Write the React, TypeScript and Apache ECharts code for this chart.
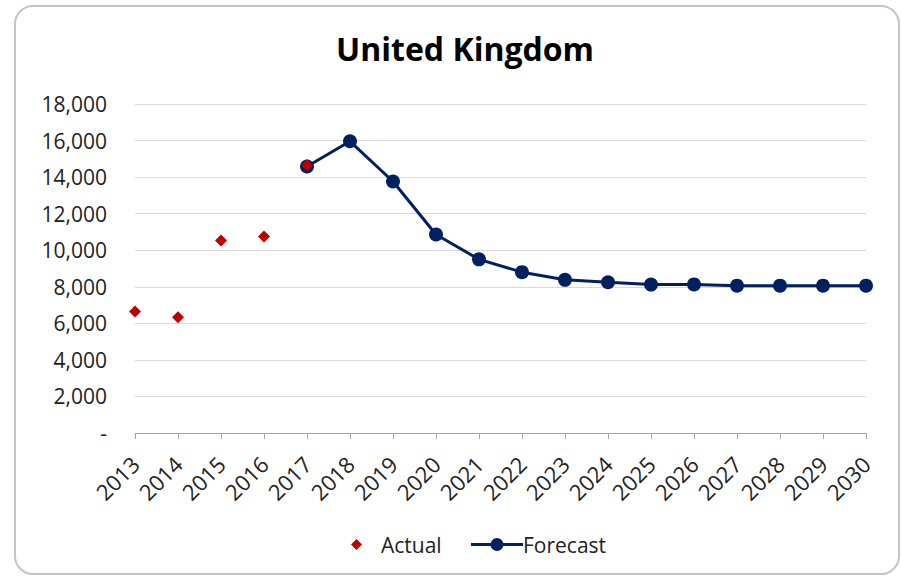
import React, { useEffect, useRef } from "react";
import * as echarts from "echarts";

const years = [
  "2013", "2014", "2015", "2016", "2017", "2018", "2019", "2020", "2021",
  "2022", "2023", "2024", "2025", "2026", "2027", "2028", "2029", "2030",
];

// Recorded values (2013–2017)
const actual: (number | null)[] = [
  6650, 6330, 10530, 10750, 14650, null, null, null, null,
  null, null, null, null, null, null, null, null, null,
];

// Projected values (2017–2030)
const forecast: (number | null)[] = [
  null, null, null, null, 14580, 15960, 13760, 10860, 9500,
  8800, 8380, 8250, 8120, 8130, 8060, 8060, 8060, 8060,
];

const yMin = 0;
const yMax = 18000;
const yStep = 2000;

const FONT = "'Open Sans', 'Noto Sans', sans-serif";

// Legend glyph for the forecast line: a 3px bar with a dot in the middle (52x13 box)
const LINE_DOT_ICON =
  "path://M0 5H52V8H0Z M19.5 6.5A6.5 6.5 0 1 1 32.5 6.5A6.5 6.5 0 1 1 19.5 6.5Z";

export default function App() {
  const ref = useRef<HTMLDivElement>(null);

  useEffect(() => {
    if (!ref.current) return;
    const chart = echarts.init(ref.current, undefined, { renderer: "svg" });
    chart.setOption({
      animation: false,
      backgroundColor: "#ffffff",
      title: {
        text: "United Kingdom",
        left: 460,
        textAlign: "center",
        top: 27,
        textStyle: {
          fontFamily: FONT,
          fontSize: 32,
          fontWeight: "bold",
          color: "#000000",
        },
      },
      graphic: [
        {
          type: "rect",
          shape: { x: 15, y: 6, width: 884, height: 568, r: 18 },
          style: { fill: "none", stroke: "#c4c4c4", lineWidth: 2 },
          z: -1,
        },
      ],
      legend: [
        {
          data: [{ name: "Actual", icon: "diamond" }],
          left: 346,
          top: 529,
          itemWidth: 11,
          itemHeight: 11,
          itemGap: 0,
          itemStyle: { opacity: 1 },
          textStyle: { fontFamily: FONT, fontSize: 21, color: "#222", padding: [0, 0, 0, 14] },
        },
        {
          data: [{ name: "Forecast", icon: LINE_DOT_ICON }],
          left: 466,
          top: 529,
          itemWidth: 52,
          itemHeight: 13,
          textStyle: { fontFamily: FONT, fontSize: 21, color: "#222", padding: [0, 0, 0, -5] },
        },
      ],
      grid: {
        left: 135,
        right: 35,
        top: 104,
        bottom: 145,
        containLabel: false,
      },
      xAxis: {
        type: "category",
        data: years,
        boundaryGap: false,
        axisLine: { show: true, lineStyle: { color: "#a6a6a6", width: 1 } },
        axisTick: { show: true, alignWithLabel: true, length: 6, lineStyle: { color: "#a6a6a6" } },
        axisLabel: {
          interval: 0,
          rotate: 45,
          margin: 27,
          fontFamily: FONT,
          fontSize: 22,
          color: "#222",
        },
      },
      yAxis: {
        type: "value",
        min: yMin,
        max: yMax,
        interval: yStep,
        axisLine: { show: false },
        axisTick: { show: false },
        splitLine: { lineStyle: { color: "#d9d9d9", width: 1 } },
        axisLabel: {
          margin: 28,
          fontFamily: FONT,
          fontSize: 21,
          color: "#222",
          formatter: (v: number) => (v === 0 ? "-" : v.toLocaleString("en-US")),
        },
      },
      series: [
        {
          name: "Forecast",
          type: "line",
          data: forecast,
          connectNulls: false,
          symbol: "circle",
          symbolSize: 14,
          lineStyle: { color: "#002060", width: 3 },
          itemStyle: { color: "#002060" },
          z: 2,
        },
        {
          name: "Actual",
          type: "scatter",
          data: actual,
          symbol: "diamond",
          symbolSize: 12,
          itemStyle: { color: "#c00000", opacity: 1 },
          z: 3,
        },
      ],
    });
    return () => chart.dispose();
  }, []);

  return (
    <div
      ref={ref}
      style={{ position: "fixed", left: 0, top: 0, width: 901, height: 578 }}
    />
  );
}
